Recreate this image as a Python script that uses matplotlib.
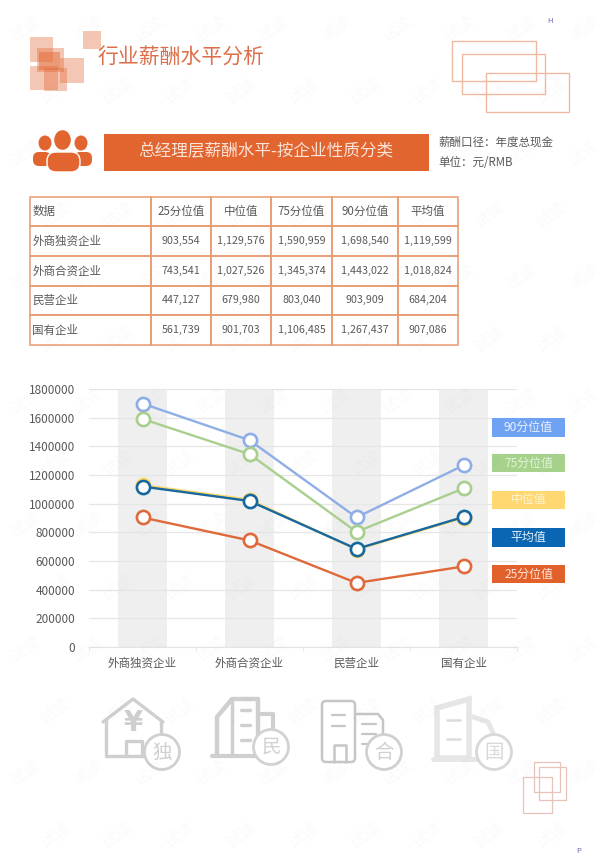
import matplotlib
matplotlib.use("Agg")
import matplotlib.pyplot as plt
from matplotlib.patches import Rectangle, Circle, Polygon, FancyBboxPatch, Ellipse
from matplotlib.ticker import StrMethodFormatter

plt.rcParams['font.family'] = ['Noto Sans CJK SC', 'DejaVu Sans']

# data
categories = ['外商独资企业', '外商合资企业', '民营企业', '国有企业']
col_labels = ['数据', '25分位值', '中位值', '75分位值', '90分位值', '平均值']
p25 = [903554, 743541, 447127, 561739]
p50 = [1129576, 1027526, 679980, 901703]
p75 = [1590959, 1345374, 803040, 1106485]
p90 = [1698540, 1443022, 903909, 1267437]
mean = [1119599, 1018824, 684204, 907086]
y_ticks = [0, 200000, 400000, 600000, 800000, 1000000, 1200000, 1400000, 1600000, 1800000]
legend_labels = ['90分位值', '75分位值', '中位值', '平均值', '25分位值']

ORANGE = '#e2652f'
TEXT = '#595959'
W, H = 610, 868

fig = plt.figure(figsize=(W / 100, H / 100), dpi=100, facecolor='white')

# full page axes, in pixels. sits above the chart so the legend boxes cover the grid
page = fig.add_axes([0, 0, 1, 1])
page.set_xlim(0, W)
page.set_ylim(H, 0)
page.axis('off')
page.set_zorder(2)


def box(x0, x1, y0, y1, **kw):
    page.add_patch(Rectangle((x0, y0), x1 - x0, y1 - y0, **kw))


# header squares
for x0, x1, y0, y1 in [(83, 101, 31, 49), (30, 53, 37, 62), (37, 64, 48, 72),
                       (60, 84, 58, 83), (30, 58, 66, 90), (44, 67, 68, 91)]:
    box(x0, x1, y0, y1, fc=ORANGE, ec='none', alpha=0.36)
box(39, 60, 52, 70, fc=ORANGE, ec='none', alpha=0.45)
page.text(97, 58, '行业薪酬水平分析', color='#dc6f4a', fontsize=15, va='center', ha='left')

# outlined rectangles
for x0, x1, y0, y1 in [(452, 536, 41, 81), (462, 545, 54, 94), (486, 569, 73, 112)]:
    box(x0, x1, y0, y1, fc='none', ec='#f0b8a0', lw=1)
for x0, x1, y0, y1 in [(534, 560, 762, 792), (539, 566, 767, 800), (523, 552, 777, 813)]:
    box(x0, x1, y0, y1, fc='none', ec='#e8c4b8', lw=0.9)

page.text(550, 21, 'H', color='#6a6ab8', fontsize=5.5, ha='center', va='center')
page.text(579, 851, 'P', color='#6a6ab8', fontsize=5.5, ha='center', va='center')

# people icon
for cx in (45, 81):
    page.add_patch(Ellipse((cx, 143), 13, 15, fc=ORANGE, ec='none'))
page.add_patch(FancyBboxPatch((33, 152), 18, 14, boxstyle='round,pad=0,rounding_size=6', fc=ORANGE, ec='none'))
page.add_patch(FancyBboxPatch((74, 152), 18, 14, boxstyle='round,pad=0,rounding_size=6', fc=ORANGE, ec='none'))
page.add_patch(Ellipse((62.5, 140), 18, 21, fc=ORANGE, ec='white', lw=1))
page.add_patch(FancyBboxPatch((47, 152), 33, 20, boxstyle='round,pad=0,rounding_size=9', fc=ORANGE, ec='white', lw=1))

# banner
box(104, 429, 134, 171, fc=ORANGE, ec='none')
page.text(266, 152, '总经理层薪酬水平-按企业性质分类', color='#fbe3d8', fontsize=12,
          ha='center', va='center')
page.text(438, 142, '薪酬口径：年度总现金', color=TEXT, fontsize=8.3, va='center')
page.text(438, 162, '单位：元/RMB', color=TEXT, fontsize=8.3, va='center')

# table
col_edges = [30, 151, 211, 271, 332, 398, 458]
col_widths = [(b - a) / (458 - 30) for a, b in zip(col_edges, col_edges[1:])]
cell_text = []
for i, name in enumerate(categories):
    row = [name]
    for s in (p25, p50, p75, p90, mean):
        row.append(format(s[i], ','))
    cell_text.append(row)
tb = page.table(cellText=cell_text, colLabels=col_labels, colWidths=col_widths,
                bbox=[30 / W, 1 - 345 / H, 428 / W, 148.5 / H], cellLoc='center')
tb.auto_set_font_size(False)
for (r, c), cell in tb.get_celld().items():
    cell.set_edgecolor('#e89a70')
    cell.set_linewidth(1.1)
    cell.set_facecolor('none')
    cell.PAD = 0.02
    cell.get_text().set_color(TEXT)
    cell.get_text().set_fontsize(8.3 if c == 0 or r == 0 else 7.7)
    if c == 0:
        cell.get_text().set_ha('left')
        cell._loc = 'left'

# line chart
ax_l, ax_r, ax_t, ax_b = 89, 517, 389, 647
ax = fig.add_axes([ax_l / W, 1 - ax_b / H, (ax_r - ax_l) / W, (ax_b - ax_t) / H])
ax.patch.set_alpha(0)
x = list(range(len(categories)))
ax.bar(x, [y_ticks[-1]] * len(x), width=0.45, color='#efefef', zorder=1)
for values, color in [(p90, '#8faee6'), (p75, '#a9cf8e'), (p50, '#ffd966'), (mean, '#16689f'), (p25, '#e0693a')]:
    ax.plot(x, values, color=color, lw=1.7, marker='o', ms=9.5, mfc='white', mec=color, mew=1.9,
            zorder=3, clip_on=False)
ax.set_xlim(-0.5, 3.5)
ax.set_ylim(0, 1800000)
ax.set_yticks(y_ticks)
ax.yaxis.set_major_formatter(StrMethodFormatter('{x:.0f}'))
ax.set_xticks(x, categories)
ax.set_xticks([-0.5, 0.5, 1.5, 2.5, 3.5], minor=True)
ax.tick_params(axis='x', which='major', length=0, pad=7, labelsize=8.3, labelcolor=TEXT)
ax.tick_params(axis='x', which='minor', length=3, color='#e4e4e4')
ax.tick_params(axis='y', length=0, pad=10, labelsize=8.5, labelcolor=TEXT)
ax.grid(axis='y', color='#e6e6e6', lw=0.9, zorder=2)
ax.set_axisbelow(False)
for s in ('top', 'right', 'left'):
    ax.spines[s].set_visible(False)
ax.spines['bottom'].set_color('#e4e4e4')

# legend boxes
legend_colors = ['#6fa2f3', '#a6d28c', '#ffd872', '#0a66b2', '#e2602a']
legend_text = ['#e8f0ff', '#e4f3da', '#fff3cf', '#e3f0fb', '#fde6da']
legend_y = [(418, 437), (454, 472), (491, 509), (528, 547), (565, 583)]
for lab, c, tc, (y0, y1) in zip(legend_labels, legend_colors, legend_text, legend_y):
    box(492, 565, y0, y1, fc=c, ec='none')
    page.text(528.5, (y0 + y1) / 2, lab, color=tc, fontsize=8.6, ha='center', va='center')

# bottom icons
GREY = '#cfcfcf'


def line(pts, color=GREY, lw=2):
    xs, ys = zip(*pts)
    page.plot(xs, ys, color=color, lw=lw, solid_capstyle='round', solid_joinstyle='round')


def badge(cx, cy, txt, color=GREY):
    page.add_patch(Circle((cx, cy), 17.5, fc='white', ec=color, lw=2, zorder=4))
    page.text(cx, cy, txt, color=color, fontsize=14, ha='center', va='center', zorder=5)


# house
line([(103, 722), (133, 699), (163, 722)], lw=2.4)
line([(106, 721), (106, 756), (150, 756)], lw=2.4)
line([(161, 722), (161, 740)], lw=2.4)
line([(126, 756), (126, 741), (142, 741), (142, 756)], lw=2.4)
page.text(133, 723, '¥', color=GREY, fontsize=20, ha='center', va='center',
          family='DejaVu Sans', weight='bold')
badge(162, 752, '独')

# building 2
line([(212, 756), (262, 756)], lw=3)
line([(217, 755), (217, 717), (232, 699), (258, 699), (258, 755)], lw=3.2)
line([(232, 699), (232, 755)], lw=2.5)
line([(258, 714), (273, 714), (273, 735)], lw=3)
for yy in (710, 725, 740):
    line([(241, yy), (250, yy)], lw=2.4)
badge(271, 747, '民', '#d2d2d2')

# building 3
page.add_patch(FancyBboxPatch((322, 701), 33, 61, boxstyle='round,pad=0,rounding_size=4',
                              fc='none', ec='#c6c6c6', lw=1.8))
line([(355, 714), (378, 714), (383, 720), (383, 740)], color='#c6c6c6', lw=1.8)
line([(334, 762), (334, 745), (346, 745), (346, 762)], color='#c6c6c6', lw=1.8)
for yy in (715, 726):
    line([(332, yy), (345, yy)], color='#c6c6c6', lw=1.6)
for yy in (724, 734, 744):
    line([(362, yy), (376, yy)], color='#c6c6c6', lw=1.6)
badge(384, 752, '合', '#d0d0d0')

# building 4
page.add_patch(Polygon([(437, 708), (469, 699), (469, 758), (437, 758)], closed=True,
                       fc='none', ec='#e6e6e6', lw=4))
line([(433, 759), (480, 759)], color='#e6e6e6', lw=3.5)
line([(470, 716), (488, 722), (494, 735)], color='#e6e6e6', lw=3.5)
for yy in (720, 739):
    line([(447, yy), (460, yy)], color='#dcdcdc', lw=1.8)
badge(494, 752, '国', '#d8d8d8')

# watermark, kept inside the page
for j, wy in enumerate(range(30, 850, 62)):
    shift = 55 if j % 2 else 25
    for wx in range(shift, 590, 62):
        page.text(wx, wy, '试读', color='#808080', alpha=0.04, fontsize=12, rotation=35,
                  ha='center', va='center', zorder=10)

fig.savefig('out.png', dpi=100)
